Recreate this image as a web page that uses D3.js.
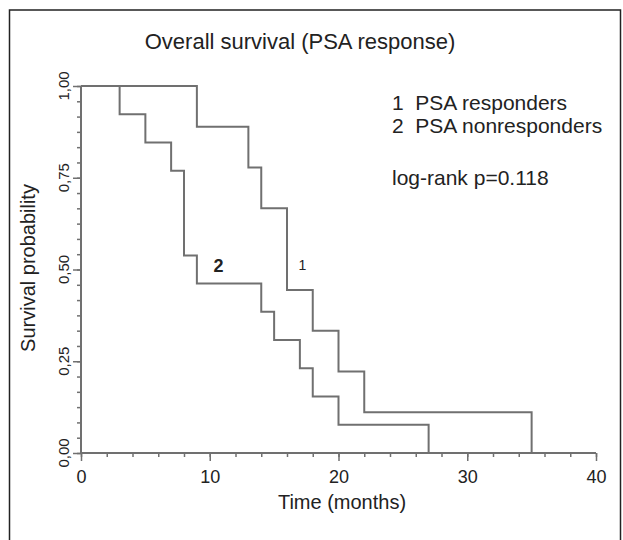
<!DOCTYPE html>
<html>
<head>
<meta charset="utf-8">
<script src="https://cdn.jsdelivr.net/npm/d3@7"></script>
<style>
  body { margin: 0; background: #fff; }
  text { font-family: "Liberation Sans", Arial, sans-serif; fill: #222; }
</style>
</head>
<body>
<div id="chart"></div>
<script>
// Kaplan-Meier steps (time in months, survival)
var respondersTime = [0, 9, 13, 14, 16, 18, 20, 22, 35];
var respondersSurv = [1.000, 0.889, 0.778, 0.667, 0.444, 0.333, 0.222, 0.111, 0.000];
var nonrespTime = [0, 3, 5, 7, 8, 9, 14, 15, 17, 18, 20, 27];
var nonrespSurv = [1.000, 0.923, 0.846, 0.769, 0.538, 0.462, 0.385, 0.308, 0.231, 0.154, 0.077, 0.000];

var xTicks = [0, 10, 20, 30, 40];
var yTicks = [0, 0.25, 0.5, 0.75, 1];
var legendLines = ["1  PSA responders", "2  PSA nonresponders"];

var W = 623, H = 540;
var svg = d3.select("#chart").append("svg")
    .attr("width", W)
    .attr("height", H);

// outer frame
svg.append("rect")
    .attr("x", 9.5).attr("y", 10)
    .attr("width", 611).attr("height", 540)
    .attr("fill", "none")
    .attr("stroke", "#222")
    .attr("stroke-width", 1.5);

var x = d3.scaleLinear().domain([0, 40]).range([81, 596]);
var y = d3.scaleLinear().domain([0, 1]).range([453, 86]);

var lineColor = "#707070";

// x axis
var xAxisG = svg.append("g").attr("transform", "translate(0," + y(0) + ")");
xAxisG.append("g")
    .call(d3.axisBottom(x).tickValues(d3.range(0, 41, 2)).tickSize(4).tickFormat(""))
    .call(function(g) { g.select(".domain").remove(); })
    .selectAll("line").attr("stroke", lineColor).attr("stroke-width", 1.5);
xAxisG.append("g")
    .call(d3.axisBottom(x).tickValues(xTicks).tickSize(8).tickPadding(9).tickFormat(d3.format("d")))
    .call(function(g) {
        g.select(".domain").attr("stroke", lineColor).attr("stroke-width", 2).attr("d", "M" + x(0) + ",0H" + x(40));
        g.selectAll("line").attr("stroke", lineColor).attr("stroke-width", 1.5);
        g.selectAll("text").attr("font-size", 18).attr("fill", "#222")
            .attr("font-family", "Liberation Sans, Arial, sans-serif");
    });

// y axis
var yAxisG = svg.append("g").attr("transform", "translate(" + x(0) + ",0)");
yAxisG.append("g")
    .call(d3.axisLeft(y).tickValues(d3.range(0, 25).map(function(i) { return i / 24; })).tickSize(4).tickFormat(""))
    .call(function(g) { g.select(".domain").remove(); })
    .selectAll("line").attr("stroke", lineColor).attr("stroke-width", 1.5);
yAxisG.append("g")
    .call(d3.axisLeft(y).tickValues(yTicks).tickSize(8).tickFormat(""))
    .call(function(g) {
        g.select(".domain").attr("stroke", lineColor).attr("stroke-width", 2).attr("d", "M0," + y(0) + "V" + y(1));
        g.selectAll("line").attr("stroke", lineColor).attr("stroke-width", 1.5);
    });

var commaFmt = function(v) { return d3.format(".2f")(v).replace(".", ","); };
svg.selectAll(".ylab")
    .data(yTicks)
  .enter().append("text")
    .attr("class", "ylab")
    .attr("transform", function(d) { return "translate(" + (x(0) - 12) + "," + y(d) + ")rotate(-90)"; })
    .attr("text-anchor", "middle")
    .attr("font-size", 15)
    .text(commaFmt);

// step curves
var stepLine = d3.line()
    .x(function(d) { return x(d[0]); })
    .y(function(d) { return y(d[1]); })
    .curve(d3.curveStepAfter);

function stepData(times, surv) {
    return times.map(function(t, i) { return [t, surv[i]]; });
}

svg.append("path")
    .datum(stepData(respondersTime, respondersSurv))
    .attr("d", stepLine)
    .attr("fill", "none")
    .attr("stroke", lineColor)
    .attr("stroke-width", 2);

svg.append("path")
    .datum(stepData(nonrespTime, nonrespSurv))
    .attr("d", stepLine)
    .attr("fill", "none")
    .attr("stroke", lineColor)
    .attr("stroke-width", 2);

// curve labels
svg.append("text")
    .attr("x", x(10.3)).attr("y", y(0.492))
    .attr("font-size", 18).attr("font-weight", "bold").attr("fill", "#444")
    .text("2");
svg.append("text")
    .attr("x", x(16.9)).attr("y", y(0.5))
    .attr("font-size", 14).attr("fill", "#999")
    .text("1");

// title
svg.append("text")
    .attr("x", 300).attr("y", 49)
    .attr("text-anchor", "middle")
    .attr("font-size", 22)
    .text("Overall survival (PSA response)");

// legend
svg.selectAll(".leg")
    .data(legendLines)
  .enter().append("text")
    .attr("class", "leg")
    .attr("x", 392)
    .attr("y", function(d, i) { return 110 + i * 23; })
    .attr("font-size", 21)
    .style("white-space", "pre")
    .text(function(d) { return d; });

svg.append("text")
    .attr("x", 392).attr("y", 185)
    .attr("font-size", 21)
    .text("log-rank p=0.118");

// axis titles
svg.append("text")
    .attr("x", 342).attr("y", 509)
    .attr("text-anchor", "middle")
    .attr("font-size", 20)
    .text("Time (months)");

svg.append("text")
    .attr("transform", "translate(35,268)rotate(-90)")
    .attr("text-anchor", "middle")
    .attr("font-size", 20)
    .text("Survival probability");
</script>
</body>
</html>
